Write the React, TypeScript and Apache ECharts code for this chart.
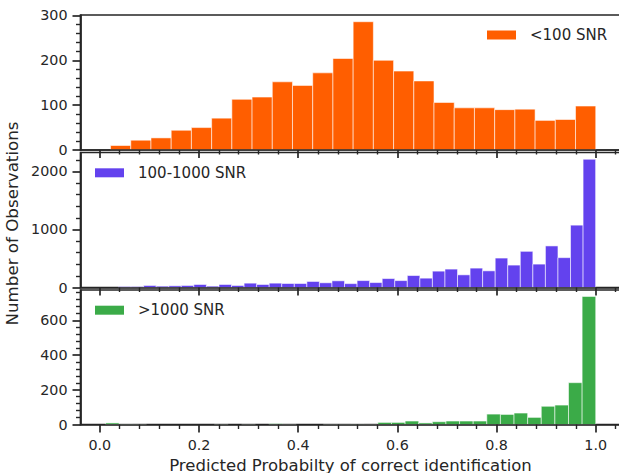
import React, { useEffect, useRef } from "react";
import * as echarts from "echarts";

// ---------- data ----------
const SERIES_NAMES = ["<100 SNR", "100-1000 SNR", ">1000 SNR"];

// histogram counts
const lowSnrCounts = [10, 22, 27, 44, 50, 71, 113, 118, 152, 144, 172, 204, 286, 200, 176, 154, 106, 94, 94, 90, 91, 66, 68, 98];
const midSnrCounts = [17, 17, 35, 23, 29, 35, 52, 23, 52, 35, 75, 52, 75, 69, 69, 104, 81, 115, 67, 119, 85, 154, 119, 206, 161, 282, 317, 218, 334, 287, 507, 386, 623, 403, 716, 514, 1074, 2209];
const highSnrCounts = [9, 3, 2, 0, 0, 0, 0, 0, 2, 0, 2, 0, 5, 2, 0, 0, 2, 2, 3, 2, 12, 12, 20, 9, 16, 20, 20, 20, 60, 58, 66, 41, 105, 112, 241, 738];

// histogram bin layout: first edge and bin width (probability units)
const lowSnrFirstEdge = 0.0216;
const lowSnrBinWidth = 0.04077;
const midSnrFirstEdge = 0.0377;
const midSnrBinWidth = 0.02532;
const highSnrFirstEdge = 0.0115;
const highSnrBinWidth = 0.02746;

// axes
const X_MIN = -0.039;
const X_MAX = 1.05;
const xMajorTicks = [0, 0.2, 0.4, 0.6, 0.8, 1.0];
const xMinorTicks = [0.04, 0.08, 0.12, 0.16, 0.24, 0.28, 0.32, 0.36, 0.44, 0.48, 0.52, 0.56, 0.64, 0.68, 0.72, 0.76, 0.84, 0.88, 0.92, 0.96, 1.04];

const yMax = [301, 2325, 775];
const yMajorTicks = [
  [0, 100, 200, 300],
  [0, 1000, 2000],
  [0, 200, 400, 600],
];
const yMinorTicks = [
  [20, 40, 60, 80, 120, 140, 160, 180, 220, 240, 260, 280],
  [200, 400, 600, 800, 1200, 1400, 1600, 1800, 2200],
  [40, 80, 120, 160, 240, 280, 320, 360, 440, 480, 520, 560, 640, 680, 720, 760],
];

const X_LABEL = "Predicted Probabilty of correct identification";
const Y_LABEL = "Number of Observations";

// ---------- styles ----------
const COLORS = ["#ff5e00", "#6342ee", "#3bab48"];
const INK = "#262626";
const FONT = "DejaVu Sans";

function toBins(counts: number[], firstEdge: number, width: number) {
  return counts.map((c, i) => [firstEdge + i * width, firstEdge + (i + 1) * width, c]);
}

export default function App() {
  const ref = useRef<HTMLDivElement>(null);

  useEffect(() => {
    if (!ref.current) return;
    const chart = echarts.init(ref.current, undefined, { renderer: "svg" });

    const binsets = [
      toBins(lowSnrCounts, lowSnrFirstEdge, lowSnrBinWidth),
      toBins(midSnrCounts, midSnrFirstEdge, midSnrBinWidth),
      toBins(highSnrCounts, highSnrFirstEdge, highSnrBinWidth),
    ];

    const gridTops = [15, 152.5, 290];
    const gridHeights = [135, 135, 134.5];

    const grids = gridTops.map((t, i) => ({
      left: 80.5,
      width: 540,
      top: t,
      height: gridHeights[i],
      show: true,
      borderColor: INK,
      borderWidth: 1.7,
      backgroundColor: "transparent",
      containLabel: false,
      outerBoundsMode: "none",
    }));

    const xAxes: any[] = [];
    const yAxes: any[] = [];
    for (let g = 0; g < 3; g++) {
      xAxes.push({
        type: "value",
        gridIndex: g,
        min: X_MIN,
        max: X_MAX,
        position: "bottom",
        z: 5,
        axisLine: { show: true, onZero: false, lineStyle: { color: INK, width: 1.7 } },
        axisTick: { show: true, length: 8, lineStyle: { color: INK, width: 1.7 }, customValues: xMajorTicks },
        axisLabel: {
          show: g === 2,
          customValues: xMajorTicks,
          formatter: (v: number) => v.toFixed(1),
          margin: 13.5,
          fontSize: 14.3,
          color: INK,
          fontFamily: FONT,
        },
        splitLine: { show: false },
        name: g === 2 ? X_LABEL : "",
        nameLocation: "middle",
        nameGap: 32,
        nameTextStyle: { fontSize: 16.5, color: INK, fontFamily: FONT },
      });
      xAxes.push({
        type: "value",
        gridIndex: g,
        min: X_MIN,
        max: X_MAX,
        position: "bottom",
        z: 5,
        axisLine: { show: false, onZero: false },
        axisTick: { show: true, length: 4.5, lineStyle: { color: INK, width: 1.4 }, customValues: xMinorTicks },
        axisLabel: { show: false },
        splitLine: { show: false },
      });
      yAxes.push({
        type: "value",
        gridIndex: g,
        min: 0,
        max: yMax[g],
        position: "left",
        z: 5,
        axisLine: { show: true, onZero: false, lineStyle: { color: INK, width: 1.7 } },
        axisTick: { show: true, length: 8, lineStyle: { color: INK, width: 1.7 }, customValues: yMajorTicks[g] },
        axisLabel: {
          show: true,
          customValues: yMajorTicks[g],
          formatter: (v: number) => String(v),
          margin: 13,
          fontSize: 14.3,
          color: INK,
          fontFamily: FONT,
        },
        splitLine: { show: false },
        name: g === 1 ? Y_LABEL : "",
        nameLocation: "middle",
        nameGap: 54,
        nameTextStyle: { fontSize: 16.7, color: INK, fontFamily: FONT, padding: [0, 7, 0, 0] },
      });
      yAxes.push({
        type: "value",
        gridIndex: g,
        min: 0,
        max: yMax[g],
        position: "left",
        z: 5,
        axisLine: { show: false, onZero: false },
        axisTick: { show: true, length: 4.5, lineStyle: { color: INK, width: 1.4 }, customValues: yMinorTicks[g] },
        axisLabel: { show: false },
        splitLine: { show: false },
      });
    }

    const series = binsets.map((bins, g) => ({
      type: "custom",
      name: SERIES_NAMES[g],
      xAxisIndex: g * 2,
      yAxisIndex: g * 2,
      itemStyle: { color: COLORS[g] },
      encode: { x: [0, 1], y: 2 },
      data: bins,
      renderItem: (params: any, api: any) => {
        const x0 = api.value(0);
        const x1 = api.value(1);
        const v = api.value(2);
        if (!v) return null;
        const a = api.coord([x0, v]);
        const b = api.coord([x1, 0]);
        return {
          type: "rect",
          shape: { x: a[0], y: a[1], width: b[0] - a[0], height: b[1] - a[1] },
          style: { fill: COLORS[g], stroke: "rgba(255,255,255,0.55)", lineWidth: 1 },
        };
      },
    }));

    const legendBase = {
      icon: "rect",
      itemWidth: 29,
      itemHeight: 9,
      padding: 0,
      orient: "vertical",
      itemStyle: { borderWidth: 0 },
      textStyle: { fontSize: 15, color: INK, fontFamily: FONT, lineHeight: 18, padding: [0, 0, 0, 9] },
    };

    chart.setOption({
      animation: false,
      backgroundColor: "#ffffff",
      grid: grids,
      xAxis: xAxes,
      yAxis: yAxes,
      legend: [
        { ...legendBase, data: [SERIES_NAMES[0]], left: 487, top: 26 },
        { ...legendBase, data: [SERIES_NAMES[1]], left: 95, top: 163.8 },
        { ...legendBase, data: [SERIES_NAMES[2]], left: 95, top: 301.2 },
      ],
      series,
    });

    return () => chart.dispose();
  }, []);

  return (
    <div
      ref={ref}
      style={{ position: "fixed", left: 0, top: 0, width: 619, height: 473 }}
    />
  );
}
